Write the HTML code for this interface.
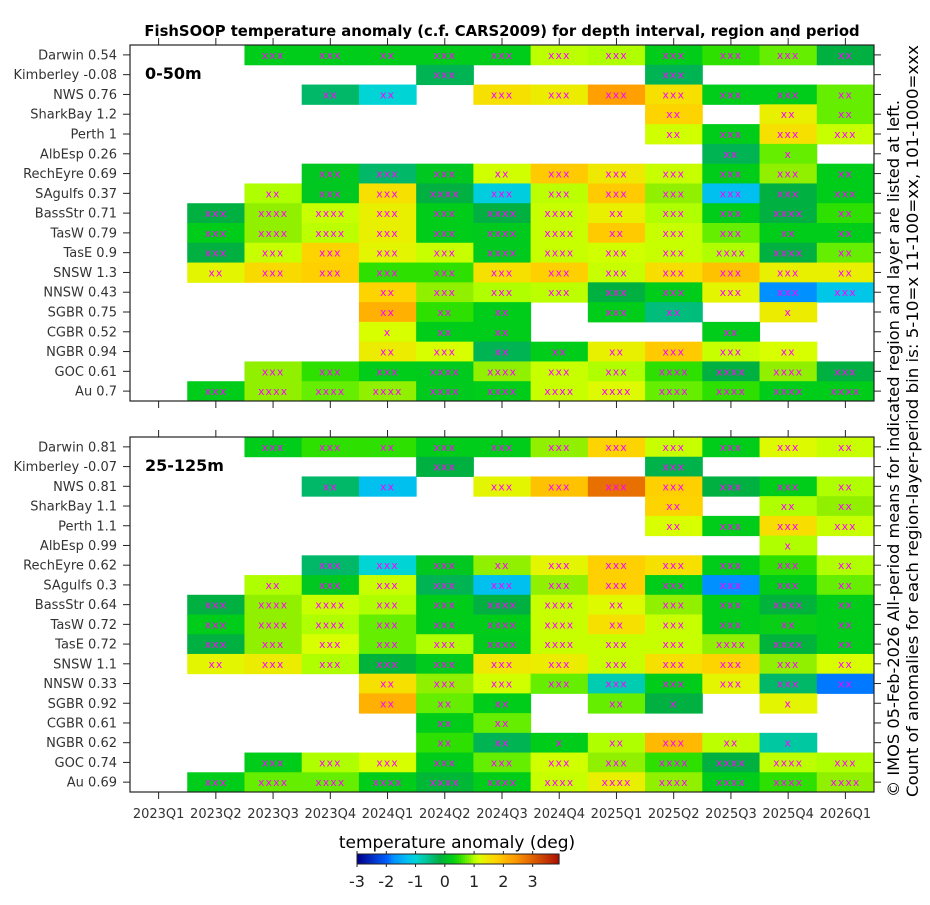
<!DOCTYPE html>
<html><head><meta charset="utf-8"><style>
body{margin:0;background:#fff;}
svg text{font-family:"DejaVu Sans","Liberation Sans",sans-serif;}
</style></head><body>
<svg id="chart" width="930" height="900" viewBox="0 0 930 900" xmlns="http://www.w3.org/2000/svg">
<text x="502" y="36" text-anchor="middle" font-size="14.8" font-weight="bold" fill="#000">FishSOOP temperature anomaly (c.f. CARS2009) for depth interval, region and period</text>
<g id="panels"></g>
<text transform="translate(899,797) rotate(-90)" text-anchor="start" font-size="15.6" textLength="697" lengthAdjust="spacingAndGlyphs" fill="#000">© IMOS 05-Feb-2026 All-period means for indicated region and layer are listed at left.</text>
<text transform="translate(918,797) rotate(-90)" text-anchor="start" font-size="16" textLength="752" lengthAdjust="spacingAndGlyphs" fill="#000">Count of anomalies for each region-layer-period bin is: 5-10=x 11-100=xx, 101-1000=xxx</text>
<text x="457" y="848" text-anchor="middle" font-size="17" fill="#000">temperature anomaly (deg)</text>
<g id="cbar"></g>
</svg>
<script>
const periods=["2023Q1","2023Q2","2023Q3","2023Q4","2024Q1","2024Q2","2024Q3","2024Q4","2025Q1","2025Q2","2025Q3","2025Q4","2026Q1"];
const regions=["Darwin","Kimberley","NWS","SharkBay","Perth","AlbEsp","RechEyre","SAgulfs","BassStr","TasW","TasE","SNSW","NNSW","SGBR","CGBR","NGBR","GOC","Au"];
const means1=["0.54","-0.08","0.76","1.2","1","0.26","0.69","0.37","0.71","0.79","0.9","1.3","0.43","0.75","0.52","0.94","0.61","0.7"];
const means2=["0.81","-0.07","0.81","1.1","1.1","0.99","0.62","0.3","0.64","0.72","0.72","1.1","0.33","0.92","0.61","0.62","0.74","0.69"];
const n=null;
const vals1=[
[n,n,0.2,0.2,0.2,0.2,0.2,1.0,0.95,0.2,0.5,0.7,-0.2],
[n,n,n,n,n,-0.3,n,n,n,-0.3,n,n,n],
[n,n,n,-0.4,-1.0,n,1.5,1.35,2.3,1.5,0.2,0.2,0.7],
[n,n,n,n,n,n,n,n,n,1.7,n,1.3,0.7],
[n,n,n,n,n,n,n,n,n,1.1,0.2,1.5,1.05],
[n,n,n,n,n,n,n,n,n,n,-0.3,0.7,n],
[n,n,n,0.1,-0.4,0.1,1.1,1.8,1.4,1.05,0.2,0.85,0.2],
[n,n,0.95,0.1,1.5,-0.2,-1.1,1.0,1.8,0.85,-1.3,-0.2,0.2],
[n,-0.2,0.85,1.05,1.3,0.2,-0.2,1.05,1.3,0.95,0.2,-0.2,0.5],
[n,0.2,0.85,1.0,1.3,0.2,0.15,1.05,1.8,1.05,0.7,0.2,0.2],
[n,-0.2,1.05,1.7,1.25,1.05,0.15,1.05,1.1,1.05,0.95,-0.2,0.7],
[n,1.25,1.6,1.75,0.5,0.5,1.5,1.75,1.05,1.55,1.9,1.3,1.3],
[n,n,n,n,1.7,0.85,0.95,1.0,-0.2,0.2,1.25,-1.8,-1.2],
[n,n,n,n,2.1,0.5,0.2,n,0.2,-0.5,n,1.35,n],
[n,n,n,n,1.15,0.2,0.2,n,n,n,0.2,n,n],
[n,n,n,n,1.35,1.15,-0.3,0.2,1.3,1.8,1.05,1.15,n],
[n,n,0.85,0.5,0.2,0.15,0.85,1.05,0.95,0.5,-0.2,0.85,-0.2],
[n,0.2,0.85,0.7,0.85,0.15,0.2,1.05,1.2,0.7,0.5,0.2,0.2]];
const counts1=[
[0,0,3,3,2,3,3,3,3,3,3,3,2],[0,0,0,0,0,3,0,0,0,3,0,0,0],[0,0,0,2,2,0,3,3,3,3,3,3,2],
[0,0,0,0,0,0,0,0,0,2,0,2,2],[0,0,0,0,0,0,0,0,0,2,3,3,3],[0,0,0,0,0,0,0,0,0,0,2,1,0],
[0,0,0,3,3,3,2,3,3,3,3,3,2],[0,0,2,3,3,4,3,3,3,3,3,3,3],[0,3,4,4,3,3,4,4,2,3,3,4,2],
[0,3,4,4,3,3,4,4,2,3,3,2,2],[0,3,3,3,3,3,4,4,3,3,4,4,2],[0,2,3,3,3,3,3,3,3,3,3,3,2],
[0,0,0,0,2,3,3,3,3,3,3,3,3],[0,0,0,0,2,2,2,0,3,2,0,1,0],[0,0,0,0,1,2,2,0,0,0,2,0,0],
[0,0,0,0,2,3,2,2,2,3,3,2,0],[0,0,3,3,3,4,4,3,3,4,4,4,3],[0,3,4,4,4,4,4,4,4,4,4,4,4]];
const vals2=[
[n,n,0.2,0.5,0.5,0.2,0.2,0.85,1.7,1.05,0.2,1.2,1.05],
[n,n,n,n,n,-0.2,n,n,n,-0.25,n,n,n],
[n,n,n,-0.4,-1.3,n,1.25,1.9,2.8,1.75,-0.2,0.2,0.95],
[n,n,n,n,n,n,n,n,n,1.7,n,0.95,0.85],
[n,n,n,n,n,n,n,n,n,1.15,0.2,1.55,1.05],
[n,n,n,n,n,n,n,n,n,n,n,0.95,n],
[n,n,n,-0.4,-1.0,0.1,0.85,1.25,1.75,1.5,0.2,0.5,0.95],
[n,n,0.95,0.1,1.05,-0.3,-1.3,0.85,1.75,0.2,-1.8,0.2,0.7],
[n,-0.2,0.85,1.05,0.95,0.2,-0.2,1.05,1.2,0.85,0.2,-0.15,0.2],
[n,0.2,0.85,0.95,0.7,0.2,0.2,1.05,1.5,1.05,0.2,0.25,0.2],
[n,-0.2,0.85,1.15,0.7,0.95,0.15,1.05,1.05,1.05,0.85,-0.15,0.2],
[n,1.25,1.35,0.95,-0.15,0.15,1.4,1.35,1.05,1.5,1.7,0.85,1.15],
[n,n,n,n,1.5,0.85,1.1,0.7,-0.8,0.2,1.25,-0.4,-1.9],
[n,n,n,n,2.1,0.7,0.2,n,0.7,-0.2,n,1.25,n],
[n,n,n,n,n,0.2,0.7,n,n,n,n,n,n],
[n,n,n,n,n,0.5,-0.3,0.2,0.95,2.0,1.0,-0.7,n],
[n,n,0.2,0.95,1.15,0.2,0.7,1.1,0.85,0.5,-0.2,1.0,0.95],
[n,0.2,0.7,0.7,0.2,-0.1,0.2,1.05,1.3,0.85,0.2,0.5,0.85]];
const counts2=[
[0,0,3,3,2,3,3,3,3,3,3,3,2],[0,0,0,0,0,3,0,0,0,3,0,0,0],[0,0,0,2,2,0,3,3,3,3,3,3,2],
[0,0,0,0,0,0,0,0,0,2,0,2,2],[0,0,0,0,0,0,0,0,0,2,3,3,3],[0,0,0,0,0,0,0,0,0,0,0,1,0],
[0,0,0,3,3,3,2,3,3,3,3,3,2],[0,0,2,3,3,3,3,3,3,3,3,3,2],[0,3,4,4,3,3,4,4,2,3,3,4,2],
[0,3,4,4,3,3,4,4,2,3,3,2,2],[0,3,3,3,3,3,4,4,3,3,4,4,2],[0,2,3,3,3,3,3,3,3,3,3,3,2],
[0,0,0,0,2,3,3,3,3,3,3,3,2],[0,0,0,0,2,2,2,0,2,1,0,1,0],[0,0,0,0,0,2,2,0,0,0,0,0,0],
[0,0,0,0,0,2,2,1,2,3,2,1,0],[0,0,3,3,3,3,3,3,3,4,4,4,3],[0,3,4,4,4,4,4,4,4,4,4,4,4]];
const cbTicks=[-3,-2,-1,0,1,2,3];

const stops=[[-3,"#00008b"],[-2,"#0060ff"],[-1.8,"#0090ff"],[-1.3,"#00c0f0"],[-1.0,"#00d4d4"],[-0.7,"#00c8a0"],[-0.4,"#00b868"],[-0.2,"#00b040"],[0.1,"#00c820"],[0.2,"#00cc1a"],[0.5,"#2ee000"],[0.7,"#66ee00"],[0.85,"#90f000"],[0.95,"#b0ff00"],[1.05,"#c8ff00"],[1.15,"#d8ff00"],[1.3,"#e8f000"],[1.5,"#f5e000"],[1.75,"#ffd000"],[2.1,"#ffb000"],[2.3,"#ffa000"],[2.8,"#e87000"],[3.5,"#c03000"],[4,"#a00000"]];
function hex(c){return [1,3,5].map(i=>parseInt(c.substr(i,2),16));}
function cmap(v){
  if(v<=stops[0][0])return stops[0][1];
  for(let i=1;i<stops.length;i++){if(v<=stops[i][0]){const a=stops[i-1],b=stops[i];const t=(v-a[0])/(b[0]-a[0]);const A=hex(a[1]),B=hex(b[1]);return "rgb("+A.map((x,k)=>Math.round(x+(B[k]-x)*t)).join(",")+")";}}
  return stops[stops.length-1][1];
}
const NS="http://www.w3.org/2000/svg";
function mk(tag,attrs,parent){const e=document.createElementNS(NS,tag);for(const k in attrs)e.setAttribute(k,attrs[k]);parent.appendChild(e);return e;}
const X0=130,X1=874,colW=(X1-X0)/periods.length;
const xCenter=c=>X0+(c+0.5)*colW;
const root=document.getElementById("panels");
function panel(top,bottom,vals,counts,means,label,pname){
  const g=mk("g",{},root);
  
  
  const rowH=(bottom-top)/regions.length;
  const yOf=r=>top+r*rowH;
  vals.forEach((row,r)=>row.forEach((v,c)=>{
    if(v===null)return;
    const rc=mk("rect",{x:X0+c*colW,y:yOf(r),width:colW+0.5,height:rowH+0.5,fill:cmap(v)},g);
    
    
    const k=counts[r][c];
    if(k>0){const t=mk("text",{x:xCenter(c),y:yOf(r)+rowH/2+4,"text-anchor":"middle","font-size":"11","fill":"#ff00ff","letter-spacing":"1"},g);t.textContent="x".repeat(k);
      
      }
  }));
  const fr=mk("rect",{x:X0,y:top,width:X1-X0,height:bottom-top,fill:"none",stroke:"#222","stroke-width":"1.2"},g);
  
  
  regions.forEach((reg,r)=>{
    const yc=yOf(r)+rowH/2;
    mk("line",{x1:123,x2:X0,y1:yc,y2:yc,stroke:"#222"},g);
    mk("line",{x1:X1,x2:X1+7,y1:yc,y2:yc,stroke:"#222"},g);
    const t=mk("text",{x:117,y:yc+4.5,"text-anchor":"end","font-size":"13",fill:"#333"},g);
    t.textContent=reg+" "+means[r];
    
    
  });
  periods.forEach((p,c)=>{
    mk("line",{x1:xCenter(c),x2:xCenter(c),y1:top-7,y2:top,stroke:"#222"},g);
    mk("line",{x1:xCenter(c),x2:xCenter(c),y1:bottom,y2:bottom+7,stroke:"#222"},g);
  });
  const lb=mk("text",{x:145,y:top+34,"font-size":"16","font-weight":"bold",fill:"#000"},g);
  lb.textContent=label;
  
  
}
panel(45,401,vals1,counts1,means1,"0-50m","panel-0-50m");
panel(437,792,vals2,counts2,means2,"25-125m","panel-25-125m");
const xl=mk("g",{},root);


periods.forEach((p,c)=>{const t=mk("text",{x:xCenter(c),y:818,"text-anchor":"middle","font-size":"13",fill:"#333"},xl);t.textContent=p;
  
  });
const cb=document.getElementById("cbar");
const CB0=357,CB1=559,vmin=-3,vmax=3.9;
const cx=v=>CB0+(v-vmin)/(vmax-vmin)*(CB1-CB0);
for(let i=0;i<101;i++){const v=vmin+(vmax-vmin)*i/101;mk("rect",{x:cx(v),y:854,width:(CB1-CB0)/101+0.6,height:10,fill:cmap(v)},cb);}
mk("rect",{x:CB0,y:854,width:CB1-CB0,height:10,fill:"none",stroke:"#222"},cb);
cbTicks.forEach(v=>{mk("line",{x1:cx(v),x2:cx(v),y1:851,y2:854,stroke:"#222"},cb);mk("line",{x1:cx(v),x2:cx(v),y1:864,y2:867,stroke:"#222"},cb);
  const t=mk("text",{x:cx(v),y:887,"text-anchor":"middle","font-size":"16",fill:"#222"},cb);t.textContent=String(v);
  
  });
</script>
</body></html>
